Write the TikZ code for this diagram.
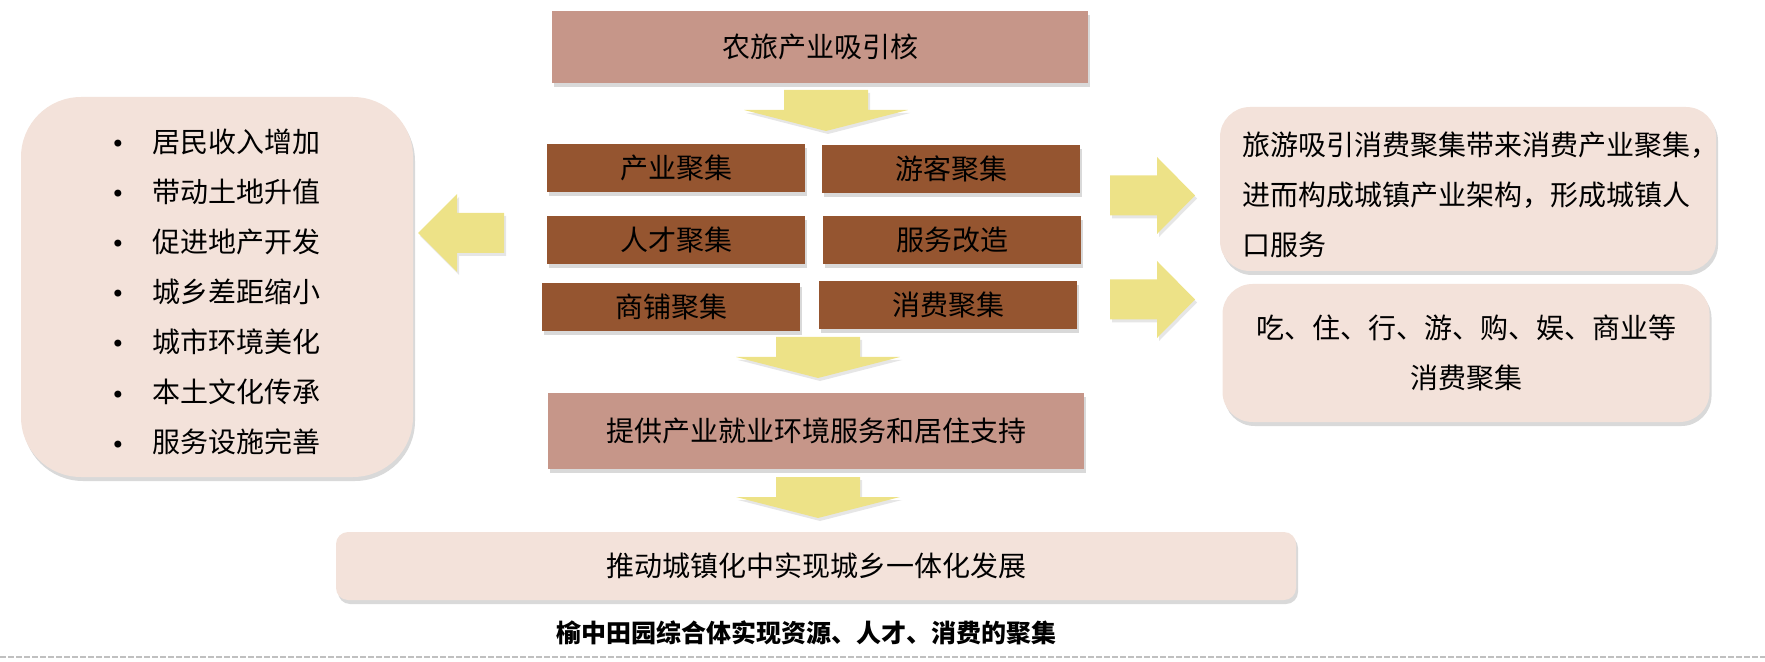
\documentclass[tikz,border=0pt]{standalone}
\usepackage{fontspec}
\setmainfont{Noto Sans CJK SC}
\newfontfamily\dotfont{DejaVu Sans}
\usetikzlibrary{shadows}

\definecolor{rosebrown}{HTML}{C69689}
\definecolor{bark}{HTML}{955530}
\definecolor{blush}{HTML}{F3E2DA}
\definecolor{straw}{HTML}{EDE287}
\definecolor{dashgray}{HTML}{C0C0C0}

\begin{document}
\begin{tikzpicture}[x=0.5pt,y=-0.5pt,
  softshadow/.style={drop shadow={shadow xshift=1pt,shadow yshift=-2pt,opacity=0.3}},
  corebox/.style={fill=rosebrown,inner sep=0pt,minimum width=268pt,softshadow,font=\fontsize{14pt}{25pt}\selectfont},
  gatherbox/.style={fill=bark,inner sep=0pt,minimum width=129pt,minimum height=24pt,softshadow,font=\fontsize{14pt}{25pt}\selectfont},
  notebox/.style={fill=blush,inner sep=0pt,rounded corners=15pt,softshadow,font=\fontsize{14pt}{25pt}\selectfont},
  yarrow/.style={fill=straw,drop shadow={shadow xshift=1pt,shadow yshift=-1.5pt,opacity=0.2}}]
\useasboundingbox (0,0) rectangle (1765,662);

% centre column
\node [corebox,minimum height=36pt] (core) at (820,47) {农旅产业吸引核};
\node [gatherbox] (industry) at (676,168) {产业聚集};
\node [gatherbox] (tourist) at (951,169) {游客聚集};
\node [gatherbox] (talent) at (676,240) {人才聚集};
\node [gatherbox] (service) at (952,240) {服务改造};
\node [gatherbox] (shops) at (671,307) {商铺聚集};
\node [gatherbox] (consume) at (948,305) {消费聚集};
\node [corebox,minimum height=38pt] (support) at (816,431) {提供产业就业环境服务和居住支持};
\node [notebox,rounded corners=6pt,minimum width=480pt,minimum height=34pt] (urban) at (816,566) {推动城镇化中实现城乡一体化发展};

% left list
\node [notebox,rounded corners=30pt,minimum width=196pt,minimum height=190pt] (benefits) at (217,287) {};
\foreach \item [count=\i] in {居民收入增加,带动土地升值,促进地产开发,城乡差距缩小,城市环境美化,本土文化传承,服务设施完善}
  {\node [anchor=base,inner sep=0pt,font=\dotfont\fontsize{12pt}{25pt}\selectfont] (dot\i) at (118,103+50*\i) {•};
   \node [anchor=west,inner sep=0pt,font=\fontsize{14pt}{25pt}\selectfont] (item\i) at (152,92+50*\i) {\item};}

% right notes
\node [notebox,minimum width=248pt,minimum height=82pt] (chain) at (1468,189) {};
\node [anchor=west,inner sep=0pt,align=left,font=\fontsize{14pt}{25pt}\selectfont] (chaintext) at (1242,195)
  {旅游吸引消费聚集带来消费产业聚集，\\进而构成城镇产业架构，形成城镇人\\口服务};
\node [notebox,minimum width=243.5pt,minimum height=69pt,align=center] (spend) at (1466,353)
  {吃、住、行、游、购、娱、商业等\\消费聚集};

% block arrows
\foreach \cx/\ty in {826/90,818/337,818/477}
  {\fill [yarrow] (\cx-42,\ty) -- (\cx+42,\ty) -- (\cx+42,\ty+20) -- (\cx+82,\ty+20)
     -- (\cx,\ty+41) -- (\cx-82,\ty+20) -- (\cx-42,\ty+20) -- cycle;}
\foreach \cy in {195.5,299.5}
  {\fill [yarrow] (1110,\cy-20) -- (1157,\cy-20) -- (1157,\cy-38.5) -- (1195,\cy)
     -- (1157,\cy+38.5) -- (1157,\cy+20) -- (1110,\cy+20) -- cycle;}
\fill [yarrow] (504,213) -- (457,213) -- (457,194) -- (418,233) -- (457,272) -- (457,253) -- (504,253) -- cycle;

% caption
\node [font=\fontsize{12.5pt}{15pt}\selectfont\bfseries] (caption) at (806,633) {榆中田园综合体实现资源、人才、消费的聚集};
\draw [dashgray,line width=1pt,dash pattern=on 3.2pt off 0.8pt] (0,657) -- (1765,657);
\end{tikzpicture}
\end{document}
